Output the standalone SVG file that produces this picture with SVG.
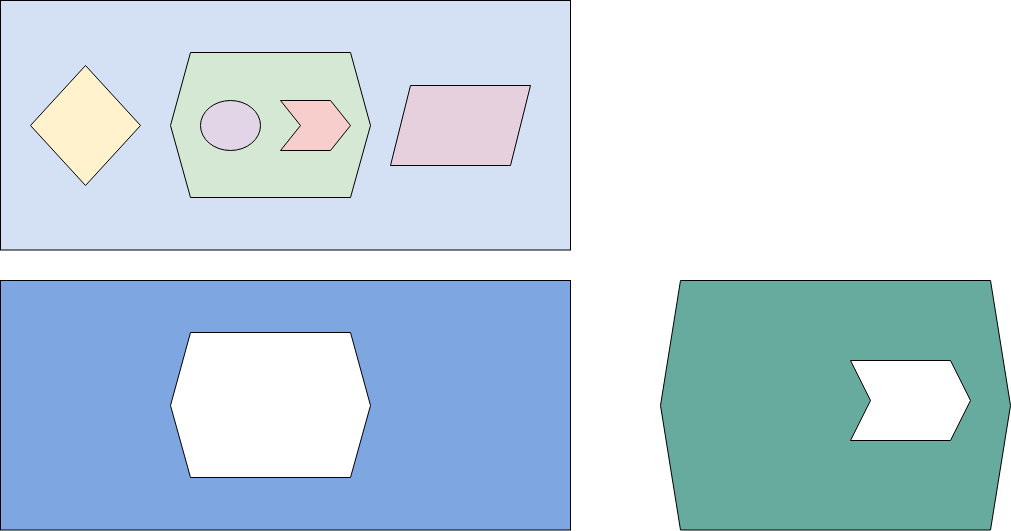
<svg xmlns="http://www.w3.org/2000/svg" width="1011" height="531" viewBox="0 0 1011 531">
<style>
.s{stroke:#000;stroke-width:1;stroke-miterlimit:10}
</style>
<rect width="1011" height="531" fill="#ffffff"/>
<g id="container-top">
<rect class="s" x="0.5" y="0.5" width="570" height="249.5" fill="#d4e1f5"/>
</g>
<g id="diamond">
<polygon class="s" points="85.5,65.5 140.5,125.5 85.5,185.5 30.5,125.5" fill="#fff2cc"/>
</g>
<g id="hexagon-green">
<polygon class="s" points="190.5,52.5 350.5,52.5 370.5,125.5 350.5,197.5 190.5,197.5 170.5,125.5" fill="#d5e8d4"/>
</g>
<g id="ellipse">
<ellipse class="s" cx="230.5" cy="125.5" rx="30" ry="25" fill="#e1d5e7"/>
</g>
<g id="chevron-red">
<polygon class="s" points="280.5,100.5 330.5,100.5 350.5,125.5 330.5,150.5 280.5,150.5 300.5,125.5" fill="#f8cecc"/>
</g>
<g id="parallelogram">
<polygon class="s" points="410.5,85.5 530.5,85.5 510.5,165.5 390.5,165.5" fill="#e6d0de"/>
</g>
<g id="container-bottom">
<rect class="s" x="0.5" y="280.5" width="570" height="249.5" fill="#7ea6e0"/>
</g>
<g id="hexagon-white">
<polygon class="s" points="190.5,332.5 350.5,332.5 370.5,405.5 350.5,477.5 190.5,477.5 170.5,405.5" fill="#ffffff"/>
</g>
<g id="hexagon-teal">
<polygon class="s" points="680.5,280.5 990.5,280.5 1010.5,405.5 990.5,530 680.5,530 660.5,405.5" fill="#67ab9f"/>
</g>
<g id="chevron-white">
<polygon class="s" points="850.5,360.5 950.5,360.5 970.5,400.5 950.5,440.5 850.5,440.5 870.5,400.5" fill="#ffffff"/>
</g>
<g id="connectors"></g>
</svg>
